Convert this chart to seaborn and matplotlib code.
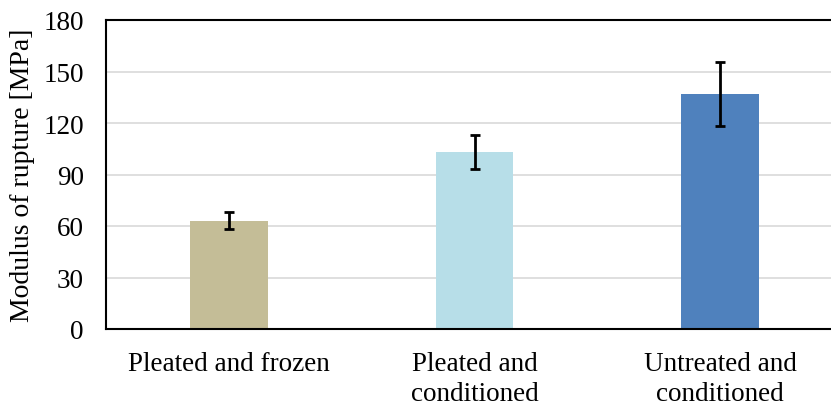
import matplotlib
matplotlib.use("Agg")
import matplotlib.pyplot as plt
import seaborn as sns
import pandas as pd

categories = ["Pleated and frozen", "Pleated and\nconditioned", "Untreated and\nconditioned"]
values = [63, 103, 137]
errors = [5, 10, 18.5]
colors = ["#C4BD97", "#B7DEE8", "#4F81BD"]
yticks = [0, 30, 60, 90, 120, 150, 180]

sns.set_theme(style="white")
plt.rcParams['font.family'] = ['Liberation Serif', 'DejaVu Serif']

df = pd.DataFrame({"cat": categories, "val": values})

fig = plt.figure(figsize=(8.31, 4.06), dpi=100)
ax = fig.add_axes([106/831, (406-330)/406, 737/831, (330-21)/406])

sns.barplot(data=df, x="cat", y="val", hue="cat", palette=colors, order=categories,
            width=0.315, legend=False, ax=ax, errorbar=None, saturation=1, linewidth=0)
ax.errorbar(range(len(categories)), values, yerr=errors, fmt="none",
            ecolor="black", elinewidth=2, capsize=3.5, capthick=2, zorder=5)

ax.set_ylim(0, 180)
ax.set_yticks(yticks)
ax.yaxis.grid(True, color="#D9D9D9", linewidth=1.2)
ax.set_axisbelow(True)
for s in ax.spines.values():
    s.set_visible(True)
    s.set_color("black")
    s.set_linewidth(1.5)
ax.tick_params(axis="both", length=0, labelsize=19.5, colors="black")
ax.tick_params(axis="y", pad=16)
ax.tick_params(axis="x", pad=15.5)
for lbl in ax.get_xticklabels():
    lbl.set_linespacing(1.27)
ax.set_xlabel("")
ax.set_ylabel("Modulus of rupture [MPa]", fontsize=20, color="black", labelpad=6)
ax.set_xlim(-0.5, 2.5)

fig.savefig("out.png", dpi=100)
